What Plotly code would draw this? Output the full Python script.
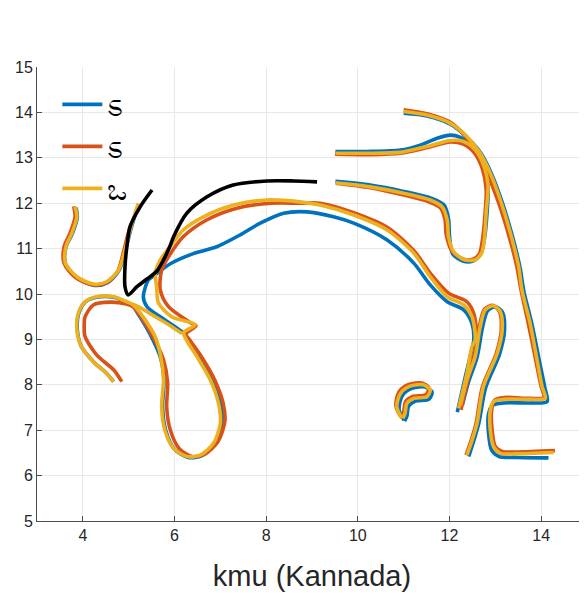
import plotly.graph_objects as go

# ---------------- data ----------------
series_names = ["ಽ", "ಽ ", "ಒ"]
series_colors = ["#0072BD", "#D95319", "#EDB120"]

# Blue series strokes (x, y)
blue_x = [
    [3.85, 3.88, 3.77, 3.63, 3.62, 3.86, 4.25, 4.54, 4.79, 4.93, 5.04, 5.15],
    [4.67, 4.52, 4.23, 3.97, 3.88, 3.91, 4.06, 4.30, 4.67, 4.96, 5.07, 5.25, 5.50, 5.69, 5.77, 5.74, 5.81, 6.0, 6.3, 6.6, 6.9, 7.04, 7.0, 6.82, 6.55, 6.32, 6.16, 5.79, 5.40, 5.32, 5.43, 5.55, 5.90, 6.41, 6.92, 7.43, 7.87, 8.38, 8.89, 9.47, 9.91, 10.64, 11.22, 11.58, 11.95, 12.31, 12.49, 12.53, 12.47, 12.35, 12.17],
    [9.51, 10.2, 10.93, 11.36, 11.73, 12.02, 12.24, 12.45, 12.70, 12.84, 12.82, 12.76, 12.68, 12.50, 12.28, 12.07, 12.0, 11.98, 11.88, 11.60, 11.0, 10.27, 9.51],
    [11.0, 11.51, 12.02, 12.38, 12.70, 12.92, 13.14, 13.36, 13.54, 13.62, 13.80, 13.96, 14.08, 14.13, 13.76, 13.18, 12.94, 12.85, 12.85, 12.92, 13.08, 13.47, 14.16],
    [12.42, 12.54, 12.64, 12.79, 13.09, 13.20, 13.16, 13.01, 12.83, 12.72, 12.60, 12.42, 12.28],
    [11.01, 10.90, 10.97, 11.18, 11.47, 11.62, 11.55, 11.26, 11.11, 11.07, 11.02],
]
blue_y = [
    [11.90, 11.69, 11.33, 11.03, 10.67, 10.36, 10.19, 10.25, 10.52, 10.96, 11.40, 11.78],
    [8.07, 8.25, 8.51, 8.84, 9.21, 9.57, 9.83, 9.93, 9.93, 9.82, 9.76, 9.49, 9.05, 8.61, 8.10, 7.51, 6.99, 6.58, 6.40, 6.44, 6.72, 7.15, 7.62, 8.13, 8.65, 8.97, 9.17, 9.43, 9.72, 9.94, 10.31, 10.40, 10.66, 10.89, 11.04, 11.30, 11.56, 11.78, 11.81, 11.70, 11.56, 11.19, 10.68, 10.20, 9.83, 9.65, 9.35, 8.99, 8.70, 8.20, 7.40],
    [13.14, 13.14, 13.17, 13.28, 13.43, 13.50, 13.45, 13.30, 12.90, 12.40, 11.80, 11.20, 10.88, 10.72, 10.73, 10.88, 11.28, 11.65, 11.96, 12.11, 12.26, 12.40, 12.48],
    [13.98, 13.92, 13.74, 13.45, 13.08, 12.64, 12.05, 11.32, 10.58, 10.07, 9.33, 8.53, 7.94, 7.63, 7.60, 7.60, 7.55, 7.35, 6.95, 6.56, 6.42, 6.40, 6.39],
    [6.42, 6.80, 7.15, 7.94, 8.67, 9.19, 9.59, 9.72, 9.63, 9.26, 8.60, 8.08, 7.55],
    [7.22, 7.46, 7.76, 7.92, 7.95, 7.84, 7.68, 7.64, 7.53, 7.31, 7.20],
]

# Red series strokes (x, y)
red_x = [
    [3.80, 3.83, 3.72, 3.59, 3.59, 3.84, 4.23, 4.52, 4.76, 4.88, 4.98, 5.05],
    [4.85, 4.67, 4.30, 4.05, 4.03, 4.05, 4.23, 4.59, 4.95, 5.10, 5.30, 5.56, 5.76, 5.85, 5.83, 5.91, 6.10, 6.38, 6.66, 6.95, 7.10, 7.06, 6.88, 6.60, 6.36, 6.25, 6.47, 6.38, 5.87, 5.69, 5.72, 5.87, 6.19, 6.70, 7.36, 8.10, 8.74, 9.18, 9.91, 10.64, 11.22, 11.58, 11.98, 12.38, 12.53, 12.60, 12.55, 12.42, 12.25],
    [9.50, 10.30, 10.93, 11.50, 12.02, 12.30, 12.55, 12.72, 12.80, 12.77, 12.72, 12.65, 12.50, 12.28, 12.05, 11.93, 11.90, 11.80, 11.55, 11.0, 10.27, 9.52],
    [11.0, 11.51, 12.02, 12.35, 12.60, 12.82, 13.05, 13.28, 13.47, 13.56, 13.72, 13.88, 14.0, 14.06, 13.76, 13.20, 12.98, 12.92, 12.93, 13.0, 13.15, 13.50, 14.30],
    [12.36, 12.48, 12.58, 12.72, 13.02, 13.13, 13.09, 12.94, 12.76, 12.65, 12.54, 12.36, 12.22],
    [10.95, 10.83, 10.90, 11.11, 11.40, 11.55, 11.48, 11.19, 11.04, 11.0, 10.95],
]
red_y = [
    [11.93, 11.70, 11.34, 11.04, 10.68, 10.36, 10.20, 10.25, 10.50, 10.90, 11.30, 11.55],
    [8.07, 8.33, 8.66, 9.06, 9.30, 9.50, 9.76, 9.82, 9.78, 9.72, 9.45, 9.00, 8.55, 8.05, 7.50, 7.00, 6.60, 6.42, 6.47, 6.75, 7.20, 7.60, 8.10, 8.60, 8.95, 9.12, 9.30, 9.35, 9.72, 10.09, 10.53, 10.82, 11.26, 11.63, 11.89, 12.0, 12.0, 12.0, 11.79, 11.47, 10.96, 10.46, 10.02, 9.83, 9.57, 8.99, 8.70, 8.20, 7.45],
    [13.08, 13.07, 13.10, 13.22, 13.35, 13.30, 13.10, 12.75, 12.30, 11.70, 11.20, 10.88, 10.76, 10.78, 10.95, 11.30, 11.65, 11.90, 12.03, 12.18, 12.34, 12.44],
    [14.06, 13.97, 13.78, 13.47, 13.10, 12.66, 12.07, 11.34, 10.60, 10.09, 9.35, 8.55, 7.96, 7.72, 7.70, 7.72, 7.66, 7.44, 7.00, 6.64, 6.53, 6.52, 6.55],
    [6.45, 6.80, 7.15, 7.96, 8.69, 9.21, 9.61, 9.75, 9.66, 9.28, 8.62, 8.11, 7.55],
    [7.30, 7.54, 7.85, 8.01, 8.04, 7.93, 7.78, 7.74, 7.63, 7.41, 7.30],
]

# Yellow series strokes (x, y)
yellow_x = [
    [3.83, 3.87, 3.76, 3.63, 3.62, 3.87, 4.23, 4.52, 4.78, 4.92, 5.03, 5.14, 5.21],
    [4.67, 4.52, 4.23, 3.97, 3.87, 3.90, 4.05, 4.30, 4.67, 4.96, 5.07, 5.14, 5.36, 5.58, 5.70, 5.76, 5.72, 5.79, 5.98, 6.27, 6.56, 6.85, 7.0, 6.96, 6.78, 6.49, 6.28, 6.20, 6.45, 5.94, 5.65, 5.61, 5.58, 5.69, 5.90, 6.19, 6.63, 7.29, 8.01, 8.74, 9.18, 9.91, 10.64, 11.22, 11.58, 11.95, 12.31, 12.49, 12.56, 12.49, 12.38, 12.20],
    [5.07, 5.21, 5.58, 5.94, 6.16],
    [9.51, 10.20, 10.93, 11.51, 12.02, 12.31, 12.53, 12.72, 12.84, 12.80, 12.76, 12.70, 12.55, 12.31, 12.09, 11.98, 11.95, 11.84, 11.58, 11.0, 10.27, 9.51],
    [11.0, 11.51, 12.02, 12.38, 12.67, 12.89, 13.11, 13.33, 13.51, 13.58, 13.76, 13.91, 14.02, 14.09, 13.76, 13.18, 12.96, 12.89, 12.89, 12.96, 13.11, 13.47, 14.27],
    [12.38, 12.50, 12.60, 12.74, 13.04, 13.15, 13.11, 12.96, 12.78, 12.67, 12.56, 12.38, 12.24],
    [10.96, 10.85, 10.93, 11.14, 11.43, 11.58, 11.51, 11.22, 11.07, 11.03, 10.98],
]
yellow_y = [
    [11.92, 11.70, 11.34, 11.04, 10.68, 10.38, 10.22, 10.27, 10.53, 10.97, 11.41, 11.78, 12.0],
    [8.07, 8.25, 8.51, 8.84, 9.21, 9.57, 9.83, 9.94, 9.94, 9.83, 9.78, 9.72, 9.43, 9.06, 8.62, 8.11, 7.52, 7.00, 6.60, 6.42, 6.45, 6.71, 7.15, 7.59, 8.11, 8.62, 8.95, 9.15, 9.32, 9.50, 9.80, 10.16, 10.46, 10.75, 11.04, 11.41, 11.70, 11.96, 12.07, 12.03, 11.96, 11.74, 11.41, 10.90, 10.38, 9.94, 9.76, 9.50, 8.99, 8.84, 8.25, 7.48],
    [9.78, 9.72, 9.50, 9.28, 9.13],
    [13.10, 13.10, 13.12, 13.25, 13.38, 13.36, 13.21, 12.90, 12.40, 11.80, 11.20, 10.90, 10.75, 10.76, 10.93, 11.26, 11.63, 11.92, 12.07, 12.22, 12.36, 12.45],
    [14.02, 13.94, 13.76, 13.47, 13.10, 12.66, 12.07, 11.34, 10.60, 10.09, 9.35, 8.55, 7.96, 7.70, 7.68, 7.68, 7.63, 7.44, 7.00, 6.64, 6.49, 6.48, 6.51],
    [6.45, 6.80, 7.15, 7.96, 8.69, 9.21, 9.61, 9.74, 9.65, 9.28, 8.62, 8.11, 7.55],
    [7.26, 7.52, 7.81, 7.97, 8.00, 7.89, 7.74, 7.70, 7.59, 7.37, 7.26],
]

# Black reference stroke
black_x = [5.51, 5.25, 5.03, 4.96, 4.92, 4.92, 4.99, 5.18, 5.40, 5.61, 5.76, 5.90, 5.98, 6.27, 6.71, 7.28, 8.02, 8.60, 9.11]
black_y = [12.29, 11.92, 11.48, 11.04, 10.60, 10.16, 9.98, 10.16, 10.33, 10.50, 10.75, 11.05, 11.26, 11.78, 12.14, 12.40, 12.49, 12.49, 12.47]

x_ticks = [4, 6, 8, 10, 12, 14]
y_ticks = [5, 6, 7, 8, 9, 10, 11, 12, 13, 14, 15]
x_title = "kmu (Kannada)"


def join(strokes):
    out = []
    for i, s in enumerate(strokes):
        if i:
            out.append(None)
        out.extend(s)
    return out


fig = go.Figure()
all_x = [blue_x, red_x, yellow_x]
all_y = [blue_y, red_y, yellow_y]
for i, (name, color, xs, ys) in enumerate(zip(series_names, series_colors, all_x, all_y)):
    fig.add_trace(go.Scatter(
        x=join(xs), y=join(ys), mode="lines", name=name,
        line=dict(color=color, width=3.6, shape="spline", smoothing=0.8),
        connectgaps=False, legendgroup="g%d" % i,
    ))

fig.add_trace(go.Scatter(
    x=black_x, y=black_y, mode="lines", showlegend=False,
    line=dict(color="black", width=3.6, shape="spline", smoothing=0.8),
))

axis_common = dict(
    showline=True, linecolor="#4d4d4d", linewidth=1,
    ticks="inside", ticklen=5, tickcolor="#4d4d4d",
    showgrid=True, gridcolor="#e8e8e8", gridwidth=1,
    zeroline=False, mirror=False,
    tickfont=dict(family="Liberation Sans, Arial, sans-serif", size=16, color="#262626"),
)

fig.update_xaxes(range=[3, 15], tickvals=x_ticks, **axis_common,
                 title=dict(text=x_title, standoff=22,
                            font=dict(family="Liberation Sans, Arial, sans-serif", size=29, color="#262626")))
fig.update_yaxes(range=[5, 15], tickvals=y_ticks, **axis_common)

# the page body adds an 8 px offset, so the figure is shrunk by 8 px to fit the window
fig.update_layout(
    width=579, height=588,
    margin=dict(l=29, r=0, t=59, b=75),
    plot_bgcolor="white", paper_bgcolor="white",
    legend=dict(x=0.037, y=0.975, xanchor="left", yanchor="top",
                bgcolor="rgba(0,0,0,0)", borderwidth=0,
                font=dict(family="Liberation Sans, Noto Sans, sans-serif", size=30, color="#000000"),
                tracegroupgap=0, itemwidth=40),
)

fig.write_html("out.html")
